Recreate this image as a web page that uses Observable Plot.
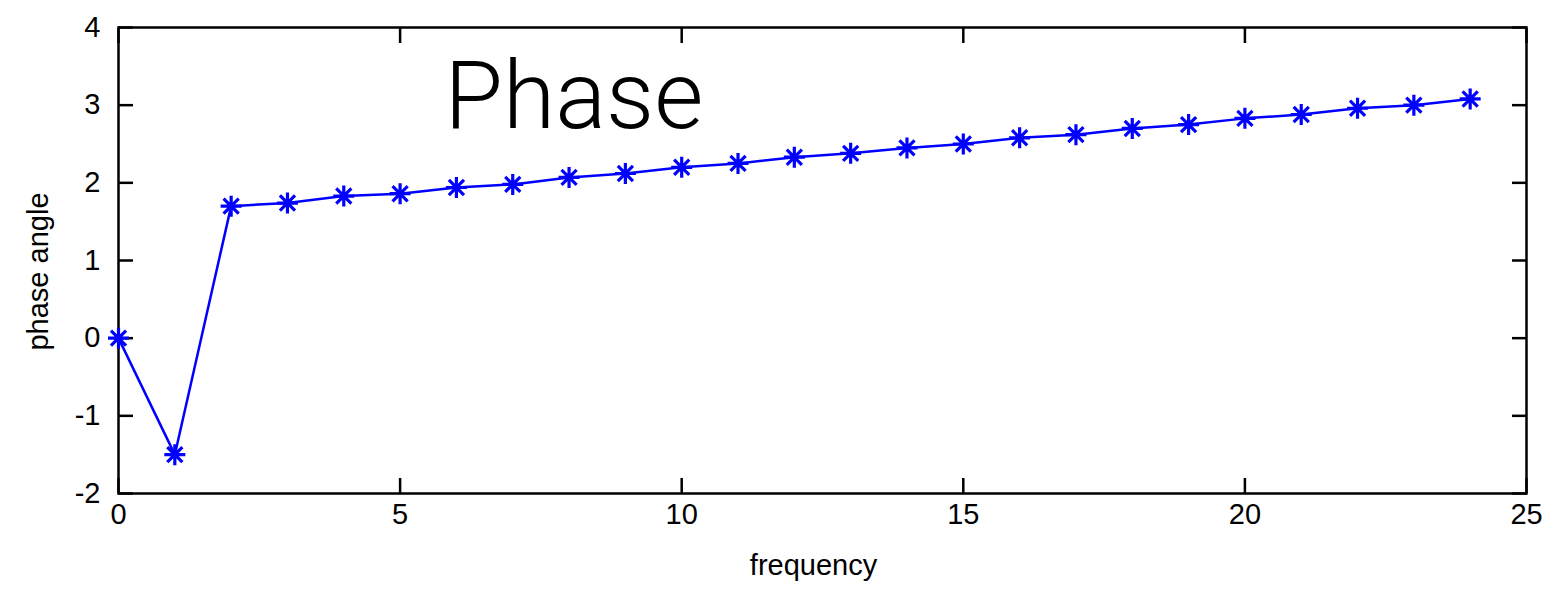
<!DOCTYPE html>
<html>
<head>
<meta charset="utf-8">
<script src="https://cdn.jsdelivr.net/npm/d3@7"></script>
<script src="https://cdn.jsdelivr.net/npm/@observablehq/plot@0.6"></script>
<style>
  html, body { margin: 0; padding: 0; background: #fff; }
</style>
</head>
<body>
<div id="chart"></div>
<script>
const frequency = [0,1,2,3,4,5,6,7,8,9,10,11,12,13,14,15,16,17,18,19,20,21,22,23,24];
const phaseAngle = [0,-1.5,1.70,1.74,1.83,1.86,1.94,1.98,2.07,2.12,2.20,2.25,2.33,2.38,2.45,2.50,2.58,2.62,2.70,2.75,2.83,2.88,2.96,3.00,3.08];
const xTicks = [0,5,10,15,20,25];
const yTicks = [-2,-1,0,1,2,3,4];
const title = "Phase";
const xLabel = "frequency";
const yLabel = "phase angle";

const data = frequency.map((f, i) => ({f, p: phaseAngle[i]}));

// MATLAB-style 8-spoke asterisk
const asterisk8 = {
  draw(ctx, size) {
    const r = Math.sqrt(size / Math.PI);
    const d = r * 0.72;
    ctx.moveTo(-r, 0); ctx.lineTo(r, 0);
    ctx.moveTo(0, -r); ctx.lineTo(0, r);
    ctx.moveTo(-d, -d); ctx.lineTo(d, d);
    ctx.moveTo(-d, d); ctx.lineTo(d, -d);
  }
};

const font = "Liberation Sans, Arial, sans-serif";
const fmt = d => String(d);

const chart = Plot.plot({
  width: 1566,
  height: 589,
  marginLeft: 118,
  marginRight: 40,
  marginTop: 27,
  marginBottom: 96,
  style: {fontFamily: font, fontSize: "30px", color: "#000", background: "#fff"},
  x: {domain: [0, 25]},
  y: {domain: [-2, 4]},
  marks: [
    Plot.axisX(xTicks, {anchor: "bottom", tickSize: -15, tickPadding: 25, tickFormat: fmt, strokeWidth: 2.5, label: null, fontSize: 29}),
    Plot.axisX(xTicks, {anchor: "top", tickSize: -15, tickFormat: () => "", strokeWidth: 2.5, label: null}),
    Plot.axisY(yTicks, {anchor: "left", tickSize: -15, tickPadding: 33, tickFormat: fmt, strokeWidth: 2.5, label: null, fontSize: 29}),
    Plot.axisY(yTicks, {anchor: "right", tickSize: -15, tickFormat: () => "", strokeWidth: 2.5, label: null}),
    Plot.frame({stroke: "#000", strokeWidth: 2.5}),
    Plot.line(data, {x: "f", y: "p", stroke: "#0000ff", strokeWidth: 2.5}),
    Plot.dot(data, {x: "f", y: "p", symbol: asterisk8, r: 10.5, stroke: "#0000ff", strokeWidth: 3.2, fill: "none"}),
    Plot.text([title], {frameAnchor: "top-left", textAnchor: "start", lineAnchor: "top", dx: 326, dy: 33, fontSize: 95, fontWeight: 300, fontFamily: "Roboto, Liberation Sans, sans-serif", fill: "#000"}),
    Plot.text([xLabel], {frameAnchor: "bottom", textAnchor: "middle", lineAnchor: "middle", dx: -9, dy: 72, fontSize: 29, fill: "#000"}),
    Plot.text([yLabel], {frameAnchor: "left", textAnchor: "middle", lineAnchor: "middle", rotate: -90, dx: -80, dy: 11, fontSize: 29, fill: "#000"})
  ]
});

document.getElementById("chart").appendChild(chart);
</script>
</body>
</html>
